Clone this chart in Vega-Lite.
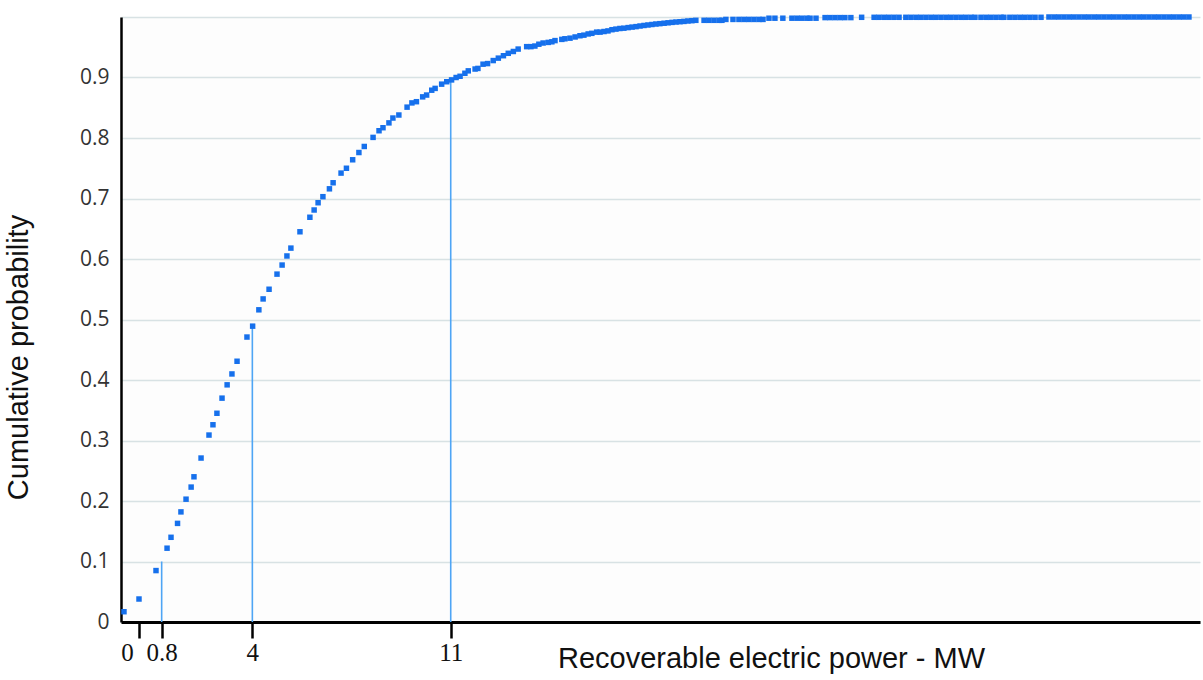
{
  "$schema": "https://vega.github.io/schema/vega-lite/v6.json",
  "width": 1079,
  "height": 605,
  "autosize": "none",
  "padding": {"left": 121, "top": 17, "right": 3, "bottom": 58},
  "background": "white",
  "config": {"view": {"stroke": null, "fill": "#fdfdfd"}},
  "datasets": {
    "drops": [
      {"power": 0.8, "prob": 0.1, "base": 0},
      {"power": 4, "prob": 0.49, "base": 0},
      {"power": 11, "prob": 0.9, "base": 0}
    ],
    "pts": [
      {"power": -0.53, "prob": 0.017}, {"power": 0.0, "prob": 0.038}, {"power": 0.6, "prob": 0.085}, {"power": 0.99, "prob": 0.122},
      {"power": 1.13, "prob": 0.14}, {"power": 1.36, "prob": 0.163}, {"power": 1.48, "prob": 0.182}, {"power": 1.66, "prob": 0.203},
      {"power": 1.84, "prob": 0.223}, {"power": 1.94, "prob": 0.24}, {"power": 2.19, "prob": 0.271}, {"power": 2.47, "prob": 0.309},
      {"power": 2.61, "prob": 0.326}, {"power": 2.75, "prob": 0.345}, {"power": 2.93, "prob": 0.37}, {"power": 3.11, "prob": 0.392},
      {"power": 3.28, "prob": 0.41}, {"power": 3.46, "prob": 0.431}, {"power": 3.81, "prob": 0.471}, {"power": 4.01, "prob": 0.489},
      {"power": 4.23, "prob": 0.516}, {"power": 4.38, "prob": 0.534}, {"power": 4.59, "prob": 0.55}, {"power": 4.87, "prob": 0.575},
      {"power": 5.05, "prob": 0.59}, {"power": 5.22, "prob": 0.605}, {"power": 5.36, "prob": 0.618}, {"power": 5.68, "prob": 0.645},
      {"power": 6.03, "prob": 0.669}, {"power": 6.18, "prob": 0.681}, {"power": 6.32, "prob": 0.693}, {"power": 6.49, "prob": 0.703},
      {"power": 6.72, "prob": 0.716}, {"power": 6.85, "prob": 0.726}, {"power": 7.13, "prob": 0.742}, {"power": 7.32, "prob": 0.75},
      {"power": 7.54, "prob": 0.764}, {"power": 7.76, "prob": 0.776}, {"power": 7.95, "prob": 0.786}, {"power": 8.26, "prob": 0.801},
      {"power": 8.47, "prob": 0.812}, {"power": 8.61, "prob": 0.817}, {"power": 8.82, "prob": 0.825}, {"power": 8.96, "prob": 0.833},
      {"power": 9.17, "prob": 0.838}, {"power": 9.46, "prob": 0.851}, {"power": 9.63, "prob": 0.858}, {"power": 9.79, "prob": 0.86},
      {"power": 10.01, "prob": 0.868}, {"power": 10.15, "prob": 0.871}, {"power": 10.33, "prob": 0.879}, {"power": 10.45, "prob": 0.882},
      {"power": 10.68, "prob": 0.889}, {"power": 10.86, "prob": 0.893}, {"power": 11.03, "prob": 0.896}, {"power": 11.19, "prob": 0.9},
      {"power": 11.33, "prob": 0.902}, {"power": 11.5, "prob": 0.907}, {"power": 11.62, "prob": 0.911}, {"power": 11.86, "prob": 0.914},
      {"power": 11.96, "prob": 0.915}, {"power": 12.14, "prob": 0.922}, {"power": 12.3, "prob": 0.923}, {"power": 12.5, "prob": 0.928},
      {"power": 12.68, "prob": 0.932}, {"power": 12.86, "prob": 0.936}, {"power": 13.03, "prob": 0.94}, {"power": 13.21, "prob": 0.943},
      {"power": 13.38, "prob": 0.947}, {"power": 13.68, "prob": 0.951}, {"power": 13.83, "prob": 0.951}, {"power": 13.97, "prob": 0.952},
      {"power": 14.11, "prob": 0.955}, {"power": 14.26, "prob": 0.957}, {"power": 14.44, "prob": 0.958}, {"power": 14.57, "prob": 0.959},
      {"power": 14.68, "prob": 0.961}, {"power": 14.92, "prob": 0.963}, {"power": 15.03, "prob": 0.964}, {"power": 15.21, "prob": 0.965},
      {"power": 15.39, "prob": 0.967}, {"power": 15.56, "prob": 0.969}, {"power": 15.7, "prob": 0.97}, {"power": 15.85, "prob": 0.972},
      {"power": 15.98, "prob": 0.973}, {"power": 16.15, "prob": 0.975}, {"power": 16.27, "prob": 0.975}, {"power": 16.41, "prob": 0.976},
      {"power": 16.55, "prob": 0.977}, {"power": 16.69, "prob": 0.979}, {"power": 16.83, "prob": 0.98}, {"power": 16.97, "prob": 0.981},
      {"power": 17.11, "prob": 0.9815}, {"power": 17.26, "prob": 0.9825}, {"power": 17.4, "prob": 0.9833}, {"power": 17.54, "prob": 0.9841},
      {"power": 17.68, "prob": 0.9851}, {"power": 17.82, "prob": 0.986}, {"power": 17.96, "prob": 0.9868}, {"power": 18.1, "prob": 0.9876},
      {"power": 18.24, "prob": 0.9884}, {"power": 18.38, "prob": 0.989}, {"power": 18.53, "prob": 0.9897}, {"power": 18.67, "prob": 0.9904},
      {"power": 18.81, "prob": 0.9911}, {"power": 18.95, "prob": 0.9917}, {"power": 19.09, "prob": 0.9922}, {"power": 19.23, "prob": 0.9927},
      {"power": 19.37, "prob": 0.9934}, {"power": 19.51, "prob": 0.9939}, {"power": 19.65, "prob": 0.9945}, {"power": 19.94, "prob": 0.9945},
      {"power": 20.11, "prob": 0.9945}, {"power": 20.29, "prob": 0.9945}, {"power": 20.47, "prob": 0.9945}, {"power": 20.57, "prob": 0.9945},
      {"power": 20.71, "prob": 0.996}, {"power": 20.96, "prob": 0.996}, {"power": 21.17, "prob": 0.996}, {"power": 21.35, "prob": 0.996},
      {"power": 21.52, "prob": 0.996}, {"power": 21.7, "prob": 0.996}, {"power": 21.88, "prob": 0.996}, {"power": 22.02, "prob": 0.996},
      {"power": 22.23, "prob": 0.998}, {"power": 22.44, "prob": 0.998}, {"power": 22.72, "prob": 0.998}, {"power": 23.04, "prob": 0.998},
      {"power": 23.22, "prob": 0.998}, {"power": 23.39, "prob": 0.998}, {"power": 23.57, "prob": 0.998}, {"power": 23.68, "prob": 0.998},
      {"power": 23.89, "prob": 0.998}, {"power": 24.21, "prob": 0.999}, {"power": 24.38, "prob": 0.999}, {"power": 24.56, "prob": 0.999},
      {"power": 24.74, "prob": 0.999}, {"power": 24.91, "prob": 0.999}, {"power": 25.12, "prob": 0.999}, {"power": 25.5, "prob": 0.9995},
      {"power": 25.94, "prob": 0.9995}, {"power": 26.11, "prob": 0.9995}, {"power": 26.29, "prob": 0.9995}, {"power": 26.46, "prob": 0.9995},
      {"power": 26.64, "prob": 0.9995}, {"power": 26.82, "prob": 0.9995}, {"power": 27.06, "prob": 0.9995}, {"power": 27.24, "prob": 0.9995},
      {"power": 27.42, "prob": 0.9995}, {"power": 27.59, "prob": 0.9995}, {"power": 27.77, "prob": 0.9995}, {"power": 27.95, "prob": 0.9995},
      {"power": 28.12, "prob": 0.9995}, {"power": 28.3, "prob": 0.9995}, {"power": 28.48, "prob": 0.9995}, {"power": 28.65, "prob": 0.9995},
      {"power": 28.83, "prob": 0.9995}, {"power": 29.01, "prob": 0.9995}, {"power": 29.18, "prob": 0.9995}, {"power": 29.36, "prob": 0.9995},
      {"power": 29.5, "prob": 0.9995}, {"power": 29.71, "prob": 0.9995}, {"power": 29.89, "prob": 0.9995}, {"power": 30.06, "prob": 0.9995},
      {"power": 30.24, "prob": 0.9995}, {"power": 30.42, "prob": 0.9995}, {"power": 30.52, "prob": 0.9995}, {"power": 30.73, "prob": 0.9995},
      {"power": 30.91, "prob": 0.9995}, {"power": 31.09, "prob": 0.9995}, {"power": 31.26, "prob": 0.9995}, {"power": 31.44, "prob": 0.9995},
      {"power": 31.62, "prob": 0.9995}, {"power": 31.83, "prob": 0.9995}, {"power": 32.11, "prob": 1}, {"power": 32.29, "prob": 1},
      {"power": 32.46, "prob": 1}, {"power": 32.64, "prob": 1}, {"power": 32.82, "prob": 1}, {"power": 32.99, "prob": 1},
      {"power": 33.17, "prob": 1}, {"power": 33.35, "prob": 1}, {"power": 33.52, "prob": 1}, {"power": 33.7, "prob": 1},
      {"power": 33.87, "prob": 1}, {"power": 34.05, "prob": 1}, {"power": 34.23, "prob": 1}, {"power": 34.4, "prob": 1},
      {"power": 34.58, "prob": 1}, {"power": 34.76, "prob": 1}, {"power": 34.93, "prob": 1}, {"power": 35.11, "prob": 1},
      {"power": 35.29, "prob": 1}, {"power": 35.46, "prob": 1}, {"power": 35.64, "prob": 1}, {"power": 35.82, "prob": 1},
      {"power": 35.99, "prob": 1}, {"power": 36.17, "prob": 1}, {"power": 36.35, "prob": 1}, {"power": 36.52, "prob": 1},
      {"power": 36.7, "prob": 1}, {"power": 36.87, "prob": 1}, {"power": 37.05, "prob": 1}
    ]
  },
  "layer": [
    {
      "data": {"name": "drops"},
      "mark": {"type": "rule", "color": "#4ea5f5", "strokeWidth": 1.6},
      "encoding": {
        "x": {"field": "power", "type": "quantitative"},
        "y": {"field": "base", "type": "quantitative"},
        "y2": {"field": "prob"}
      }
    },
    {
      "data": {"name": "pts"},
      "mark": {"type": "square", "filled": true, "size": 30, "color": "#1670ec", "opacity": 1},
      "encoding": {
        "x": {
          "field": "power", "type": "quantitative",
          "scale": {"domain": [-0.635, 37.44], "nice": false, "zero": false},
          "axis": {
            "values": [0, 0.8, 4, 11], "format": "~g", "grid": false,
            "domainColor": "#000", "domainWidth": 3,
            "tickColor": "#000", "tickWidth": 2.5, "tickSize": 16,
            "labelFont": "Liberation Serif", "labelFontSize": 25, "labelColor": "#111", "labelPadding": 2, "labelOverlap": false,
            "labelOffset": {"condition": {"test": "datum.value == 0", "value": -12}, "value": 0},
            "title": "Recoverable electric power - MW",
            "titleFont": "Liberation Sans", "titleFontSize": 29, "titleFontWeight": "normal", "titleColor": "#111",
            "titleX": 650, "titleY": 45, "titleBaseline": "alphabetic", "titleAlign": "center"
          }
        },
        "y": {
          "field": "prob", "type": "quantitative",
          "scale": {"domain": [0, 1], "nice": false},
          "axis": {
            "values": [0, 0.1, 0.2, 0.3, 0.4, 0.5, 0.6, 0.7, 0.8, 0.9, 1], "format": "~g",
            "labelExpr": "datum.value >= 1 ? '' : datum.label",
            "domainColor": "#000", "domainWidth": 2.5, "ticks": false,
            "grid": true, "gridColor": "#d8e2e4", "gridWidth": 1.5,
            "labelFont": "Open Sans", "labelFontSize": 21, "labelColor": "#333", "labelPadding": 12,
            "title": "Cumulative probability",
            "titleFont": "Liberation Sans", "titleFontSize": 29, "titleFontWeight": "normal", "titleColor": "#111",
            "titleAngle": -90, "titleX": -94, "titleY": 340, "titleBaseline": "alphabetic", "titleAlign": "center"
          }
        }
      }
    }
  ]
}
